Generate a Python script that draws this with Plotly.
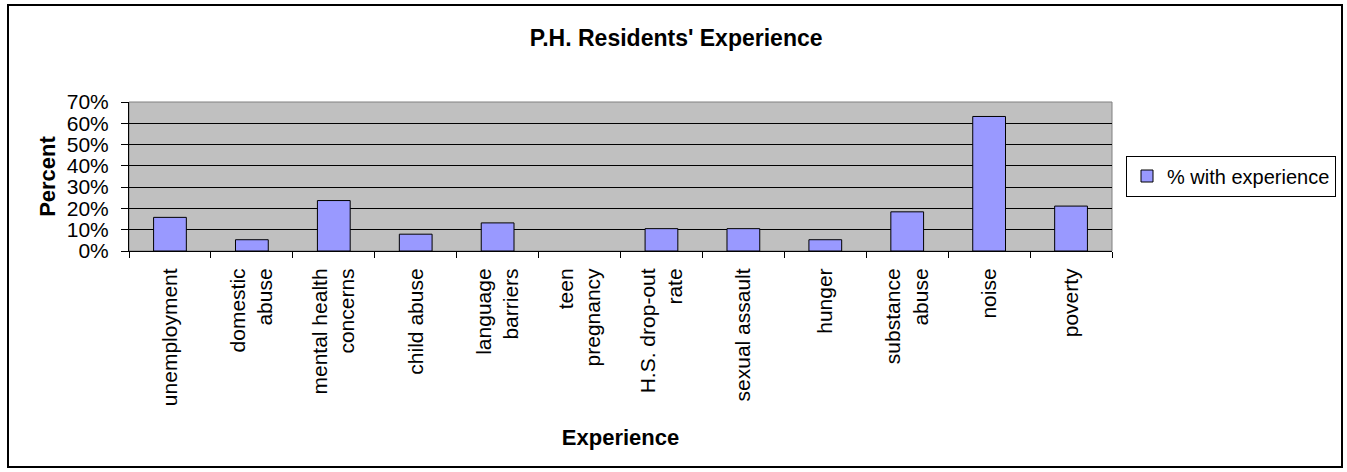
import plotly.graph_objects as go

categories = ["unemployment", "domestic<br>abuse", "mental health<br>concerns", "child abuse",
              "language<br>barriers", "teen<br>pregnancy", "H.S. drop-out<br>rate", "sexual assault",
              "hunger", "substance<br>abuse", "noise", "poverty"]
pct_with_experience = [15.8, 5.3, 23.7, 7.9, 13.2, 0, 10.5, 10.5, 5.3, 18.4, 63.2, 21.1]
y_ticks = [0, 10, 20, 30, 40, 50, 60, 70]
y_tick_labels = [f"{v}%" for v in y_ticks]

W, H = 1347, 472
L, R, T, B = 129, 235, 102, 221
FONT = "Arial, Liberation Sans, sans-serif"

pw, ph = W - L - R, H - T - B
def px_x(v): return (v - L) / pw
def px_y(v): return (H - B - v) / ph

fig = go.Figure()
fig.add_trace(go.Bar(
    x=categories, y=pct_with_experience, name="% with experience",
    marker=dict(color="#9999FF",
                line=dict(color="black", width=[1 if v > 0 else 0 for v in pct_with_experience])),
))

fig.update_layout(
    width=W, height=H, autosize=False,
    margin=dict(l=L, r=R, t=T, b=B),
    paper_bgcolor="white", plot_bgcolor="#C0C0C0",
    font=dict(family=FONT, size=21, color="black"),
    bargap=0.6,
    title=dict(text="<b>P.H. Residents' Experience</b>", font=dict(size=23),
               x=0.502, xref="container", xanchor="center",
               y=1 - 38 / H, yref="container", yanchor="middle"),
    # legend placed in container coords so it does not push the right margin
    legend=dict(x=1126 / W, y=1 - 176 / H, xref="container", yref="container",
                xanchor="left", yanchor="middle",
                bordercolor="black", borderwidth=1, bgcolor="white",
                font=dict(size=20)),
    showlegend=True,
    shapes=[
        dict(type="rect", xref="paper", yref="paper", x0=0, x1=1, y0=0, y1=1,
             line=dict(color="#808080", width=1), layer="below"),
        dict(type="rect", xref="paper", yref="paper",
             x0=px_x(8), x1=px_x(1342), y0=px_y(467), y1=px_y(5),
             line=dict(color="black", width=2)),
    ],
)

fig.update_xaxes(
    type="category", tickangle=-90, tickson="boundaries", ticks="outside",
    ticklen=6, tickcolor="black", showline=True, linecolor="black", linewidth=1,
    showgrid=False, ticklabelstandoff=8, automargin=False,
    title=dict(text="<b>Experience</b>", font=dict(size=22), standoff=24),
)
fig.update_yaxes(
    range=[0, 70], tickvals=y_ticks, ticktext=y_tick_labels, ticks="outside", ticklen=7,
    tickcolor="black", showline=True, linecolor="black", linewidth=1,
    showgrid=True, gridcolor="black", gridwidth=1, zeroline=False,
    ticklabelstandoff=8, automargin=False,
    title=dict(text="<b>Percent</b>", font=dict(size=22), standoff=5),
)

# drop the default body margin / scrollbar so the figure sits at the window origin
fix_page = """
document.body.style.margin = '0';
document.documentElement.style.overflow = 'hidden';
"""

fig.write_html("out.html", config={"displayModeBar": False}, post_script=fix_page)
